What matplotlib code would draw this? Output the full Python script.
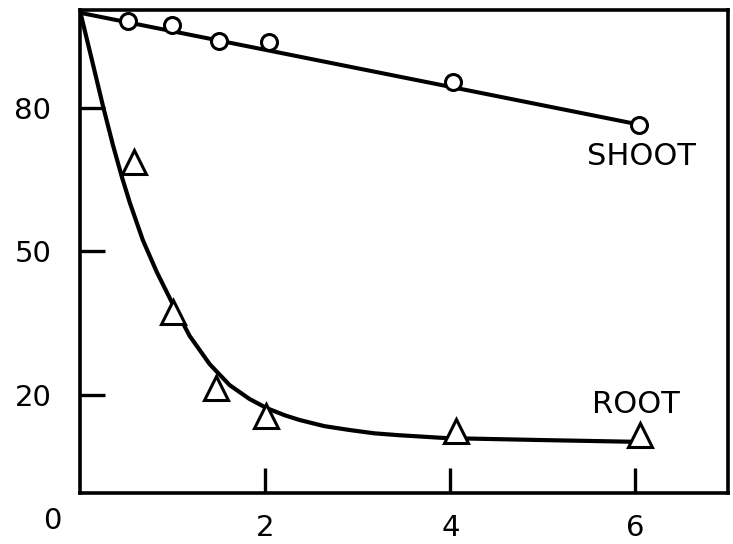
"""Shoot / root decline chart, redrawn with matplotlib."""

import matplotlib

matplotlib.use("Agg")
import matplotlib.pyplot as plt

# --------------------------------------------------------------------------- #
# Data
# --------------------------------------------------------------------------- #
shoot_x = [0.51, 0.99, 1.5, 2.04, 4.03, 6.04]
shoot_y = [98.4, 97.4, 94.1, 93.8, 85.6, 76.6]
shoot_line_x = [0.0, 6.04]
shoot_line_y = [100.0, 76.6]

root_x = [0.58, 1.0, 1.47, 2.01, 4.06, 6.05]
root_y = [68.7, 37.3, 21.4, 15.5, 12.3, 11.5]
# hand-drawn curve through the root points
root_curve_x = [0.0, 0.124, 0.243, 0.351, 0.448, 0.534, 0.674, 0.825, 0.987,
                1.181, 1.397, 1.613, 1.828, 2.012, 2.206, 2.368, 2.638, 2.908,
                3.177, 3.447, 3.954, 4.957, 6.057]
root_curve_y = [100.0, 90.1, 80.5, 72.3, 65.6, 60.2, 52.4, 45.7, 39.4,
                32.3, 26.4, 22.0, 19.1, 17.2, 15.7, 14.7, 13.4, 12.6,
                11.9, 11.5, 10.9, 10.5, 10.1]

x_ticks = [2, 4, 6]
y_ticks = [20, 50, 80]

# --------------------------------------------------------------------------- #
# Figure
# --------------------------------------------------------------------------- #
fig = plt.figure(figsize=(7.33, 5.44), dpi=100)
ax = fig.add_axes([0.1098, 0.0938, 0.883, 0.8878])

ax.plot(shoot_line_x, shoot_line_y, color="black", linewidth=2.9,
        solid_capstyle="round")
ax.plot(shoot_x, shoot_y, linestyle="none", marker="o", markersize=11.5,
        markerfacecolor="white", markeredgecolor="black",
        markeredgewidth=2.2, zorder=3)

ax.plot(root_curve_x, root_curve_y, color="black", linewidth=3.0,
        solid_joinstyle="round", solid_capstyle="round")
ax.plot(root_x, root_y, linestyle="none", marker="^", markersize=17,
        markerfacecolor="white", markeredgecolor="black",
        markeredgewidth=2.2, zorder=3)

ax.set_xlim(0, 7)
ax.set_ylim(-0.6, 100.6)
ax.set_xticks(x_ticks)
ax.set_yticks(y_ticks)
ax.tick_params(direction="in", length=18, width=2.4, labelsize=21,
               colors="black")
ax.tick_params(axis="y", pad=21)
ax.tick_params(axis="x", pad=15)
for side in ax.spines.values():
    side.set_linewidth(2.6)

for lab in ax.get_xticklabels() + ax.get_yticklabels():
    lab.set_family("DejaVu Sans")

ax.text(-0.31, -6.5, "0", fontsize=21, ha="center", va="center",
        clip_on=False)

label_font = ["DejaVu Sans Condensed", "Liberation Sans Narrow", "DejaVu Sans"]
ax.text(6.07, 70.0, "SHOOT", fontsize=22, family=label_font,
        ha="center", va="center")
ax.text(6.01, 18.0, "ROOT", fontsize=22, family=label_font,
        ha="center", va="center")

fig.savefig("out.png", dpi=100)
plt.close(fig)
